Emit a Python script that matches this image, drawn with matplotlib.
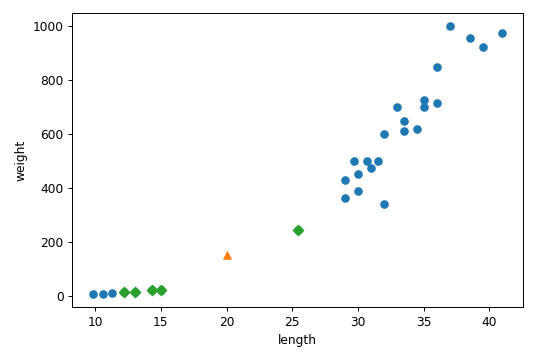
import matplotlib
matplotlib.use('Agg')
import matplotlib.pyplot as plt

# training data (length, weight)
train_length = [9.8, 10.6, 11.3, 12.2, 13.0, 14.3, 15.0, 25.4,
                29.0, 29.0, 29.7, 30.0, 30.0, 30.7, 31.0, 31.5, 32.0, 32.0,
                33.0, 33.5, 33.5, 34.5, 35.0, 35.0, 36.0, 36.0, 37.0,
                38.5, 39.5, 41.0]
train_weight = [6.7, 7.0, 8.7, 12.2, 12.2, 19.7, 19.9, 242.0,
                363.0, 430.0, 500.0, 450.0, 390.0, 500.0, 475.0, 500.0, 340.0, 600.0,
                700.0, 650.0, 610.0, 620.0, 725.0, 700.0, 714.0, 850.0, 1000.0,
                955.0, 925.0, 975.0]

# new sample
new_length = 20
new_weight = 150

# nearest neighbours
neigh_length = [25.4, 15.0, 14.3, 13.0, 12.2]
neigh_weight = [242.0, 19.9, 19.7, 12.2, 12.2]

dpi = 88
fig = plt.figure(figsize=(547 / dpi, 360 / dpi), dpi=dpi)
ax = fig.add_axes([0.132, 0.147, 0.824, 0.817])

ax.scatter(train_length, train_weight)
ax.scatter(new_length, new_weight, marker='^')
ax.scatter(neigh_length, neigh_weight, marker='D')
ax.set_xlabel('length')
ax.set_ylabel('weight')

fig.savefig('out.png', dpi=dpi)
